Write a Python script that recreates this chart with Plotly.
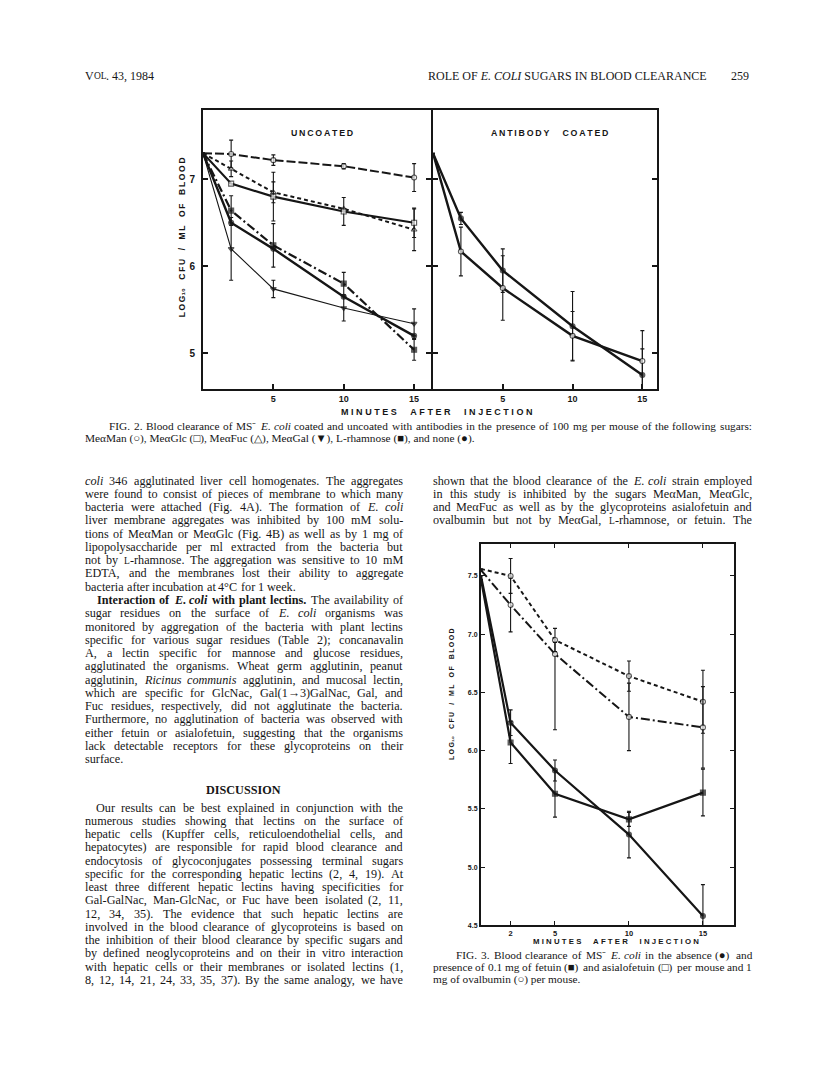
import plotly.graph_objects as go

W, H = 816, 1076

# ---------------- data ----------------
minutes = [0, 2, 5, 10, 15]

# Fig. 2, uncoated bacteria (log10 CFU / ml of blood)
unc_meman = [7.30, 7.29, 7.22, 7.15, 7.02]
unc_meman_err = [None, 0.16, 0.06, 0.03, 0.16]
unc_meglc = [7.30, 6.95, 6.80, 6.63, 6.50]
unc_meglc_err = [None, None, 0.28, 0.16, 0.17]
unc_mefuc = [7.30, 7.12, 6.85, 6.66, 6.42]
unc_mefuc_err = [None, 0.09, 0.12, None, 0.24]
unc_megal = [7.30, 6.20, 5.74, 5.52, 5.34]
unc_megal_err = [None, 0.36, 0.10, 0.15, 0.17]
unc_rham = [7.30, 6.64, 6.24, 5.80, 5.04]
unc_rham_err = [None, 0.17, 0.25, 0.13, 0.12]
unc_none = [7.30, 6.50, 6.20, 5.65, 5.20]
unc_none_err = [None, None, None, None, None]

# Fig. 2, antibody coated bacteria
ab_none = [7.30, 6.55, 5.95, 5.31, 4.75]
ab_none_err = [None, 0.07, 0.25, 0.40, 0.30]
ab_meman = [7.30, 6.17, 5.75, 5.20, 4.91]
ab_meman_err = [None, 0.28, 0.37, 0.28, 0.35]

# Fig. 3
f3_minutes = [0, 2, 5, 10, 15]
f3_asialo = [7.56, 7.50, 6.95, 6.64, 6.42]
f3_asialo_err = [None, 0.15, 0.10, 0.13, 0.27]
f3_ovalb = [7.55, 7.25, 6.83, 6.29, 6.20]
f3_ovalb_err_plus = [None, 0.23, 0.10, 0.29, 0.35]
f3_ovalb_err_minus = [None, 0.23, 0.65, 0.29, 0.35]
f3_none = [7.50, 6.24, 5.83, 5.28, 4.58]
f3_none_err = [None, 0.11, 0.09, 0.20, 0.27]
f3_fetuin = [7.47, 6.07, 5.63, 5.41, 5.64]
f3_fetuin_err = [None, 0.18, 0.20, 0.06, 0.20]

fig2_xticks = [5, 10, 15]
fig2_yticks = [5, 6, 7]
fig3_xticks = [2, 5, 10, 15]
fig3_yticks = [4.5, 5.0, 5.5, 6.0, 6.5, 7.0, 7.5]
fig3_yticklabels = ["4.5", "5.0", "5.5", "6.0", "6.5", "7.0", "7.5"]

# ---------------- page text ("\u029f" = small-capital L) ----------------
header_mid = "ROLE OF <i>E. COLI</i> SUGARS IN BLOOD CLEARANCE"
header_right = "259"

fig2_caption = [
    "FIG. 2. Blood clearance of MS\u207b <i>E. coli</i> coated and uncoated with antibodies in the presence of 100 mg per mouse of the following sugars:",
    "Me\u03b1Man (\u25cb), Me\u03b1Glc (\u25a1), Me\u03b1Fuc (\u25b3), Me\u03b1Gal (\u25bc), \u029f-rhamnose (\u25a0), and none (\u25cf).",
]

left_col = [
    "<i>coli</i> 346 agglutinated liver cell homogenates. The aggregates",
    "were found to consist of pieces of membrane to which many",
    "bacteria were attached (Fig. 4A). The formation of <i>E. coli</i>",
    "liver membrane aggregates was inhibited by 100 mM solu-",
    "tions of Me\u03b1Man or Me\u03b1Glc (Fig. 4B) as well as by 1 mg of",
    "lipopolysaccharide per ml extracted from the bacteria but",
    "not by \u029f-rhamnose. The aggregation was sensitive to 10 mM",
    "EDTA, and the membranes lost their ability to aggregate",
    "bacteria after incubation at 4\u00b0C for 1 week.",
    "<b>Interaction of <i>E. coli</i> with plant lectins.</b> The availability of",
    "sugar residues on the surface of <i>E. coli</i> organisms was",
    "monitored by aggregation of the bacteria with plant lectins",
    "specific for various sugar residues (Table 2); concanavalin",
    "A, a lectin specific for mannose and glucose residues,",
    "agglutinated the organisms. Wheat germ agglutinin, peanut",
    "agglutinin, <i>Ricinus communis</i> agglutinin, and mucosal lectin,",
    "which are specific for GlcNac, Gal(1\u21923)GalNac, Gal, and",
    "Fuc residues, respectively, did not agglutinate the bacteria.",
    "Furthermore, no agglutination of bacteria was observed with",
    "either fetuin or asialofetuin, suggesting that the organisms",
    "lack detectable receptors for these glycoproteins on their",
    "surface.",
]
left_par_start = {9}
left_par_end = {8, 21}

discussion = [
    "Our results can be best explained in conjunction with the",
    "numerous studies showing that lectins on the surface of",
    "hepatic cells (Kupffer cells, reticuloendothelial cells, and",
    "hepatocytes) are responsible for rapid blood clearance and",
    "endocytosis of glycoconjugates possessing terminal sugars",
    "specific for the corresponding hepatic lectins (2, 4, 19). At",
    "least three different hepatic lectins having specificities for",
    "Gal-GalNac, Man-GlcNac, or Fuc have been isolated (2, 11,",
    "12, 34, 35). The evidence that such hepatic lectins are",
    "involved in the blood clearance of glycoproteins is based on",
    "the inhibition of their blood clearance by specific sugars and",
    "by defined neoglycoproteins and on their in vitro interaction",
    "with hepatic cells or their membranes or isolated lectins (1,",
    "8, 12, 14, 21, 24, 33, 35, 37). By the same analogy, we have",
]

right_col = [
    "shown that the blood clearance of the <i>E. coli</i> strain employed",
    "in this study is inhibited by the sugars Me\u03b1Man, Me\u03b1Glc,",
    "and Me\u03b1Fuc as well as by the glycoproteins asialofetuin and",
    "ovalbumin but not by Me\u03b1Gal, \u029f-rhamnose, or fetuin. The",
]

fig3_caption = [
    "FIG. 3. Blood clearance of MS\u207b <i>E. coli</i> in the absence (\u25cf) and",
    "presence of 0.1 mg of fetuin (\u25a0) and asialofetuin (\u25a1) per mouse and 1",
    "mg of ovalbumin (\u25cb) per mouse.",
]

# ---------------- helpers ----------------
def fx(px):
    return px / W

def fy(py):
    return 1 - py / H

SERIF = "Liberation Serif"
SANS = "Liberation Sans"
INK = "#161616"

fig = go.Figure()

def series(x, y, err, xa, ya, dash, width, symbol, filled, err_minus=None, msize=5):
    ey = dict(type="data", array=err, visible=True, thickness=1.1, width=2, color=INK)
    if err_minus is not None:
        ey["symmetric"] = False
        ey["arrayminus"] = err_minus
    fig.add_trace(go.Scatter(
        x=x, y=y, xaxis=xa, yaxis=ya, mode="lines+markers",
        line=dict(color=INK, width=width, dash=dash),
        marker=dict(symbol=symbol, size=[0] + [msize] * (len(x) - 1),
                    color=INK if filled else "white",
                    line=dict(color=INK, width=1.1)),
        error_y=ey, showlegend=False, cliponaxis=True))

# Fig 2 left (uncoated)
series(minutes, unc_meman, unc_meman_err, "x", "y", "9px,3px", 2.0, "circle", False)
series(minutes, unc_mefuc, unc_mefuc_err, "x", "y", "4px,3px", 2.0, "triangle-up", False)
series(minutes, unc_meglc, unc_meglc_err, "x", "y", "solid", 2.2, "square", False)
series(minutes, unc_rham, unc_rham_err, "x", "y", "9px,3px,2px,3px", 2.2, "square", True)
series(minutes, unc_none, unc_none_err, "x", "y", "solid", 2.4, "circle", True)
series(minutes, unc_megal, unc_megal_err, "x", "y", "solid", 1.1, "triangle-down", True)

# Fig 2 right (antibody coated)
series(minutes, ab_none, ab_none_err, "x2", "y2", "solid", 2.4, "circle", True)
series(minutes, ab_meman, ab_meman_err, "x2", "y2", "solid", 2.4, "circle", False)

# Fig 3
series(f3_minutes, f3_asialo, f3_asialo_err, "x3", "y3", "4px,3px", 2.0, "circle", False)
series(f3_minutes, f3_ovalb, f3_ovalb_err_plus, "x3", "y3", "9px,3px,2px,3px", 2.0, "circle", False,
       err_minus=f3_ovalb_err_minus)
series(f3_minutes, f3_none, f3_none_err, "x3", "y3", "solid", 2.2, "circle", True)
series(f3_minutes, f3_fetuin, f3_fetuin_err, "x3", "y3", "solid", 2.2, "square", True)

def bold(vals):
    return ["<b>%s</b>" % v for v in vals]

axis_common = dict(showgrid=False, zeroline=False, showline=True, linecolor=INK,
                   ticks="inside", tickcolor=INK, fixedrange=True)

F2_L, F2_M, F2_R, F2_T, F2_B = 203, 431, 657, 110, 390
F3_L, F3_R, F3_T, F3_B = 481, 734, 546, 928

layout_axes = dict(
    xaxis=dict(domain=[fx(F2_L), fx(F2_M)], range=[0, 16.2], anchor="y",
               tickvals=fig2_xticks, ticktext=bold(fig2_xticks), mirror=True,
               linewidth=2, ticklen=5, tickwidth=1.5,
               tickfont=dict(family=SANS, size=9, color=INK), **axis_common),
    yaxis=dict(domain=[fy(F2_B), fy(F2_T)], range=[4.59, 7.80], anchor="x",
               tickvals=fig2_yticks, ticktext=bold(fig2_yticks), mirror="ticks",
               linewidth=2, ticklen=5, tickwidth=1.5, ticklabelstandoff=4,
               tickfont=dict(family=SANS, size=10, color=INK), **axis_common),
    xaxis2=dict(domain=[fx(F2_M + 2), fx(F2_R)], range=[0, 16.05], anchor="y2",
                tickvals=fig2_xticks, ticktext=bold(fig2_xticks), mirror=True,
                linewidth=2, ticklen=5, tickwidth=1.5,
                tickfont=dict(family=SANS, size=9, color=INK), **axis_common),
    yaxis2=dict(domain=[fy(F2_B), fy(F2_T)], range=[4.59, 7.80], anchor="x2",
                tickvals=fig2_yticks, showticklabels=False, mirror="ticks",
                linewidth=2, ticklen=5, tickwidth=1.5, **axis_common),
    xaxis3=dict(domain=[fx(F3_L), fx(F3_R)], range=[0, 17.1], anchor="y3",
                tickvals=fig3_xticks, ticktext=bold(fig3_xticks), mirror="ticks",
                linewidth=2, ticklen=4, tickwidth=1.3,
                tickfont=dict(family=SANS, size=7.5, color=INK), **axis_common),
    yaxis3=dict(domain=[fy(F3_B), fy(F3_T)], range=[4.5, 7.77], anchor="x3",
                tickvals=fig3_yticks, ticktext=bold(fig3_yticklabels), mirror="ticks",
                linewidth=2, ticklen=4, tickwidth=1.3,
                tickfont=dict(family=SANS, size=7, color=INK), **axis_common),
)

ann = []

def txt(x, y, text, size, anchor="left", family=SERIF, angle=0, color=INK):
    ann.append(dict(x=fx(x), y=fy(y), xref="paper", yref="paper", text=text,
                    showarrow=False, xanchor=anchor, yanchor="middle", borderpad=0,
                    textangle=angle, font=dict(family=family, size=size, color=color)))

# --- Times-compatible advance widths (per 1000 em) for justified setting ---
_LOW_R = dict(zip("abcdefghijklmnopqrstuvwxyz",
                  [444, 500, 444, 500, 444, 333, 500, 500, 278, 278, 500, 278, 778,
                   500, 500, 500, 500, 333, 389, 278, 500, 500, 722, 500, 500, 444]))
_UP_R = dict(zip("ABCDEFGHIJKLMNOPQRSTUVWXYZ",
                 [722, 667, 667, 722, 611, 556, 722, 722, 333, 389, 722, 611, 889,
                  722, 722, 556, 722, 667, 556, 611, 722, 722, 944, 722, 722, 611]))
_LOW_I = dict(zip("abcdefghijklmnopqrstuvwxyz",
                  [500, 500, 444, 500, 444, 278, 500, 500, 278, 278, 444, 278, 722,
                   500, 500, 500, 500, 389, 389, 278, 500, 444, 667, 444, 444, 389]))
_UP_I = dict(zip("ABCDEFGHIJKLMNOPQRSTUVWXYZ",
                 [611, 611, 667, 722, 611, 611, 722, 722, 333, 444, 667, 556, 833,
                  667, 722, 611, 722, 611, 500, 556, 722, 611, 833, 611, 556, 556]))
_LOW_B = dict(zip("abcdefghijklmnopqrstuvwxyz",
                  [500, 556, 444, 556, 444, 333, 500, 556, 278, 333, 556, 278, 833,
                   556, 500, 556, 556, 444, 389, 333, 556, 500, 722, 500, 500, 444]))
_UP_B = dict(zip("ABCDEFGHIJKLMNOPQRSTUVWXYZ",
                 [722, 667, 722, 722, 667, 611, 778, 778, 389, 500, 778, 667, 944,
                  722, 778, 611, 778, 722, 556, 667, 722, 722, 1000, 722, 722, 667]))
_PUNCT = {".": 250, ",": 250, "(": 333, ")": 333, "-": 333, ";": 278, ":": 278,
          "/": 278, "\u00b0": 400, "\u03b1": 530, "\u2192": 930, "\u207b": 340,
          "\u25cb": 770, "\u25a1": 770, "\u25b3": 770, "\u25bc": 770, "\u25a0": 770,
          "\u25cf": 770, "\u029f": 611 * 0.78}

def cw(ch, st):
    if ch.isdigit():
        return 500
    if ch in _PUNCT:
        return _PUNCT[ch]
    if st in ("b", "bi"):
        return _LOW_B.get(ch, _UP_B.get(ch, 520))
    if st == "i":
        return _LOW_I.get(ch, _UP_I.get(ch, 500))
    return _LOW_R.get(ch, _UP_R.get(ch, 500))

def parse_words(line):
    chars, it, bd, i = [], False, False, 0
    while i < len(line):
        for tag, val in (("<i>", ("i", True)), ("</i>", ("i", False)),
                         ("<b>", ("b", True)), ("</b>", ("b", False))):
            if line.startswith(tag, i):
                if val[0] == "i":
                    it = val[1]
                else:
                    bd = val[1]
                i += len(tag)
                break
        else:
            st = "bi" if (bd and it) else "b" if bd else "i" if it else "r"
            chars.append((line[i], st))
            i += 1
    words, cur = [], []
    for ch, st in chars:
        if ch == " ":
            if cur:
                words.append(cur)
                cur = []
        else:
            cur.append((ch, st))
    if cur:
        words.append(cur)
    return words

def run_html(run):
    out, last, buf = [], None, ""
    def flush(b, s):
        if not b:
            return ""
        if s == "i":
            return "<i>%s</i>" % b
        if s == "b":
            return "<b>%s</b>" % b
        if s == "bi":
            return "<b><i>%s</i></b>" % b
        return b
    for ch, st in run:
        if st != last:
            out.append(flush(buf, last))
            buf, last = "", st
        buf += ch
    out.append(flush(buf, last))
    return "".join(out)

def place_line(x0, x1, y, line, size, justify=True):
    words = parse_words(line)
    widths = [sum(cw(c, s) for c, s in w) * size / 1000.0 for w in words]
    n = len(words)
    gap = 0.25 * size
    if justify and n > 1:
        gap = max((x1 - x0 - sum(widths)) / (n - 1), 0.18 * size)
    x = x0
    for w, wd in zip(words, widths):
        if w[0][0] == "\u029f":
            txt(x, y + 0.4, "L", size * 0.78)
            rest = w[1:]
            txt(x + 611 * 0.78 * size / 1000.0, y, run_html(rest), size)
        else:
            txt(x, y, run_html(w), size)
        x += wd + gap

def spaced(s, gap="\u2009", word="\u2003"):
    words = s.split(" ")
    return word.join(gap.join(list(w)) for w in words if w)

# ---------------- header ----------------
HS = 12
txt(84, 76, "V", HS)
txt(84 + 722 * HS / 1000.0, 76.4, "OL", 9.5)
txt(84 + 722 * HS / 1000.0 + (722 + 611) * 9.5 / 1000.0, 76, ". 43, 1984", HS)
txt(708, 76, header_mid, HS, anchor="right")
txt(750, 76, header_right, HS, anchor="right")

# ---------------- Fig 2 texts ----------------
txt(322, 133, "<b>" + spaced("UNCOATED") + "</b>", 8.8, anchor="center", family=SANS)
txt(549, 133, "<b>" + spaced("ANTIBODY COATED", word="\u2003\u2002") + "</b>", 8.8,
    anchor="center", family=SANS)
txt(436, 413, "<b>" + spaced("MINUTES AFTER INJECTION", gap="\u2009\u200a",
                              word="\u2003\u2002") + "</b>",
    9, anchor="center", family=SANS)
txt(182, 238, "<b>" + spaced("LOG") + "\u2081\u2080\u2003" + spaced("CFU / ML OF BLOOD") + "</b>",
    8.5, anchor="center", family=SANS, angle=-90)

CAP = 11.3
COL_L0, COL_L1 = 84, 402
COL_R0, COL_R1 = 432, 751
place_line(108, COL_R1, 427, fig2_caption[0], CAP, justify=True)
txt(COL_L0, 440, fig2_caption[1].replace("\u029f", "L"), CAP)

# ---------------- text columns ----------------
LINE = 13.3
y0 = 482
BODY = 12.2
for i, line in enumerate(left_col):
    x = COL_L0 + (12 if i in left_par_start else 0)
    place_line(x, COL_L1, y0 + i * LINE, line, BODY, justify=(i not in left_par_end))
y_last = y0 + (len(left_col) - 1) * LINE
y_disc = y_last + 30.5
txt(243, y_disc, "<b>DISCUSSION</b>", BODY, anchor="center")
y1 = y_disc + 18
for i, line in enumerate(discussion):
    x = COL_L0 + (11 if i == 0 else 0)
    place_line(x, COL_L1, y1 + i * LINE, line, BODY, justify=True)

for i, line in enumerate(right_col):
    place_line(COL_R0, COL_R1, y0 + i * LINE, line, BODY, justify=True)

# ---------------- Fig 3 texts ----------------
txt(616, 944, "<b>" + spaced("MINUTES AFTER INJECTION", gap="\u2009\u200a",
                              word="\u2003\u2002") + "</b>",
    7.8, anchor="center", family=SANS)
txt(451, 696, "<b>" + spaced("LOG") + "\u2081\u2080\u2003" + spaced("CFU / ML OF BLOOD") + "</b>",
    7, anchor="center", family=SANS, angle=-90)
place_line(455, COL_R1, 958, fig3_caption[0], CAP, justify=True)
place_line(COL_R0, COL_R1, 970, fig3_caption[1], CAP, justify=True)
txt(COL_R0, 982, fig3_caption[2], CAP)

fig.update_layout(
    width=W, height=H, margin=dict(l=0, r=0, t=0, b=0),
    paper_bgcolor="white", plot_bgcolor="white",
    annotations=ann, **layout_axes,
)

fig.write_html("out.html", config={"displayModeBar": False},
               post_script="document.body.style.margin='0';document.body.style.overflow='hidden';")
